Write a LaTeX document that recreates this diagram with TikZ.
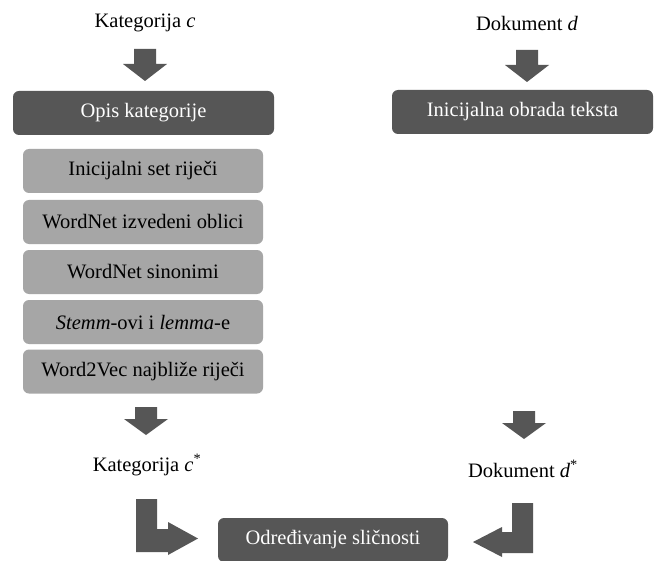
\documentclass[tikz,border=0pt]{standalone}
\usepackage{fontspec}
\setmainfont{Liberation Serif}
\begin{document}
\begin{tikzpicture}[x=1pt,y=-1pt,
  darkbox/.style={fill=boxdark,rounded corners=6pt,text=white,inner sep=0pt,minimum height=44pt,font=\fontsize{20.5}{24}\selectfont},
  lightbox/.style={fill=boxlight,rounded corners=6pt,text=black,inner sep=0pt,minimum width=240pt,minimum height=44pt,font=\fontsize{20.5}{24}\selectfont},
  lbl/.style={inner sep=0pt,font=\fontsize{20.5}{24}\selectfont},
  downarr/.pic={\fill[boxdark] (-11,0) -- (11,0) -- (11,15) -- (22,15) -- (0,32) -- (-22,15) -- (-11,15) -- cycle;},
  downarrs/.pic={\fill[boxdark] (-11,0) -- (11,0) -- (11,12) -- (22,12) -- (0,28) -- (-22,12) -- (-11,12) -- cycle;}
]
\definecolor{boxdark}{HTML}{565656}
\definecolor{boxlight}{HTML}{A6A6A6}
\useasboundingbox (0,0) rectangle (655,561);
\fill[white] (0,0) rectangle (655,561);

% top labels
\node[lbl] (katc) at (145,23) {Kategorija \textit{c}};
\node[lbl] (dokd) at (527,23) {Dokument \textit{d}};

% down arrows (top)
\pic at (145,49) {downarr};
\pic at (527,50) {downarr};

% dark boxes
\node[darkbox,minimum width=261pt] (opis) at (143.5,113) {Opis kategorije};
\node[darkbox,minimum width=261pt] (inic) at (522.5,112) {Inicijalna obrada teksta};

% light boxes
\node[lightbox] (b1) at (143,171) {Inicijalni set riječi};
\node[lightbox] (b2) at (143,222) {WordNet izvedeni oblici};
\node[lightbox] (b3) at (143,272) {WordNet sinonimi};
\node[lightbox] (b4) at (143,322) {\textit{Stemm}-ovi i \textit{lemma}-e};
\node[lightbox] (b5) at (143,371.5) {Word2Vec najbliže riječi};

% down arrows (bottom)
\pic at (146,407) {downarrs};
\pic at (524,411) {downarrs};

% bottom labels
\node[lbl] (katcs) at (147,465) {Kategorija \textit{c}\textsuperscript{*}};
\node[lbl] (dokds) at (523,469) {Dokument \textit{d}\textsuperscript{*}};

% final box
\node[darkbox,minimum width=230pt] (odr) at (333,540) {Određivanje sličnosti};

% L-shaped arrows
\fill[boxdark] (136,499) -- (157,499) -- (157,529) -- (168,529) -- (168,522)
  -- (198,538.5) -- (168,555) -- (168,552) -- (136,552) -- cycle;
\fill[boxdark] (533,503) -- (512,503) -- (512,532) -- (502,532) -- (502,527)
  -- (473,542) -- (502,557) -- (502,553) -- (533,553) -- cycle;
\end{tikzpicture}
\end{document}
